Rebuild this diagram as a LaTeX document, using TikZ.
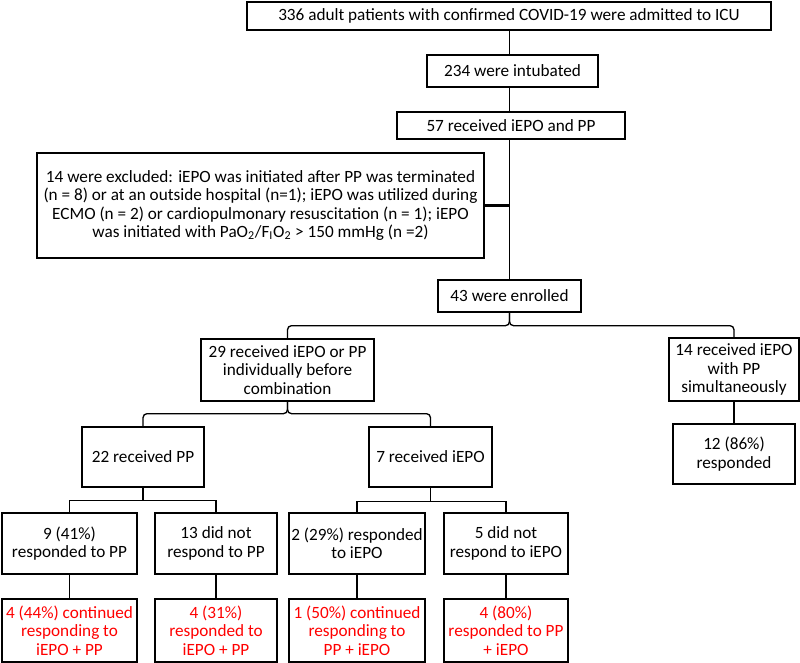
\documentclass[tikz,border=0pt]{standalone}
\usepackage{fontspec}
\setmainfont{Carlito}
\usepackage{tikz}

\begin{document}
\begin{tikzpicture}[x=0.75pt,y=-0.75pt,
		box/.style={draw,line width=1pt,align=center,inner xsep=0pt,inner ysep=1pt,font=\fontsize{12.9}{13.7}\selectfont},
		redbox/.style={box,text=red},
		wh/.style 2 args={minimum width=#1*0.75pt,minimum height=#2*0.75pt},
		link/.style={line width=1pt},
		brace/.style={line width=1pt,rounded corners=3pt}]
		\useasboundingbox (0,0) rectangle (800,663);
		\node[box,wh={524}{28}] (admit) at (509,16) {336 adult patients with confirmed COVID-19 were admitted to ICU};
		\node[box,wh={171}{32}] (intub) at (512.5,71) {234 were intubated};
		\node[box,wh={228}{27}] (recv) at (511,125.5) {57 received iEPO and PP};
		\node[box,wh={447}{105}] (excl) at (260.5,205.5) {14 were excluded: iEPO was initiated after PP was terminated\\(n = 8) or at an outside hospital (n=1); iEPO was utilized during\\ECMO (n = 2) or cardiopulmonary resuscitation (n = 1); iEPO\\was initiated with PaO\textsubscript{2}/F\textsubscript{I}O\textsubscript{2} > 150 mmHg (n =2)};
		\node[box,wh={143}{32}] (enrol) at (509.5,296) {43 were enrolled};
		\node[box,wh={173}{62}] (indiv) at (287.5,370) {29 received iEPO or PP\\individually before\\combination};
		\node[box,wh={130}{63}] (simul) at (734,369.5) {14 received iEPO\\with PP\\simultaneously};
		\node[box,wh={122}{60}] (pp) at (143,457) {22 received PP};
		\node[box,wh={123}{60}] (epo) at (430.5,457) {7 received iEPO};
		\node[box,wh={122}{60}] (resp) at (734,454) {12 (86\%)\\responded};
		\node[box,wh={135}{61}] (ppyes) at (69.5,543.5) {9 (41\%)\\responded to PP};
		\node[box,wh={122}{61}] (ppno) at (216,543.5) {13 did not\\respond to PP};
		\node[box,wh={136}{61}] (epoyes) at (357,543.5) {2 (29\%) responded\\to iEPO};
		\node[box,wh={124}{61}] (epono) at (506,543.5) {5 did not\\respond to iEPO};
		\node[redbox,wh={135}{63}] (ppyesboth) at (69.5,630.5) {4 (44\%) continued\\responding to\\iEPO + PP};
		\node[redbox,wh={122}{63}] (ppnoboth) at (216,630.5) {4 (31\%)\\responded to\\iEPO + PP};
		\node[redbox,wh={136}{63}] (epoyesboth) at (357,630.5) {1 (50\%) continued\\responding to\\PP + iEPO};
		\node[redbox,wh={124}{63}] (eponoboth) at (506,630.5) {4 (80\%)\\responded to PP\\+ iEPO};
		\draw[link] (admit.south -| enrol) -- (intub.north -| enrol);
		\draw[link] (intub.south -| enrol) -- (recv.north -| enrol);
		\draw[link] (recv.south -| enrol) -- (enrol.north);
		\draw[line width=1.6pt] (excl.east) -- (excl.east -| enrol);
		\draw[brace] (enrol.south) -- ++(0,13) -| (indiv.north);
		\draw[brace] (enrol.south) -- ++(0,13) -| (simul.north);
		\draw[brace] (indiv.south) -- ++(0,12) -| (pp.north);
		\draw[brace] (indiv.south) -- ++(0,12) -| (epo.north);
		\draw[link] (simul.south) -- (resp.north);
		\draw[link] (pp.south) -- ++(0,13) -| (ppyes.north);
		\draw[link] (pp.south) -- ++(0,13) -| (ppno.north);
		\draw[link] (epo.south) -- ++(0,14) -| (epoyes.north);
		\draw[link] (epo.south) -- ++(0,14) -| (epono.north);
		\draw[link] (ppyes.south) -- (ppyesboth.north);
		\draw[link] (ppno.south) -- (ppnoboth.north);
		\draw[link] (epoyes.south) -- (epoyesboth.north);
		\draw[link] (epono.south) -- (eponoboth.north);
	\end{tikzpicture}
\end{document}
